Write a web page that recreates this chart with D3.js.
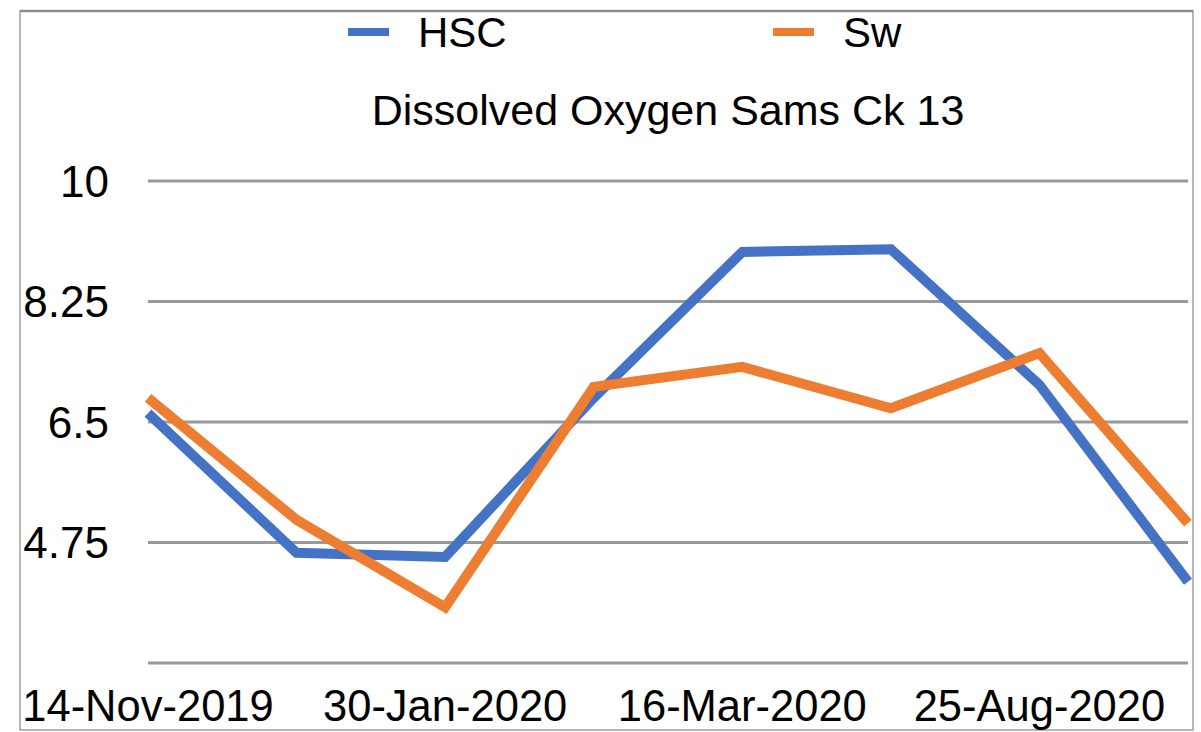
<!DOCTYPE html>
<html>
<head>
<meta charset="utf-8">
<script src="https://cdn.jsdelivr.net/npm/d3@7"></script>
<style>
  body { margin: 0; background: #fff; }
  text { font-family: "Liberation Sans", Arial, Helvetica, sans-serif; fill: #000; }
</style>
</head>
<body>
<div class="canvas"></div>
<script>
// --- data
var tickLabels = ['14-Nov-2019', '', '30-Jan-2020', '', '16-Mar-2020', '', '25-Aug-2020', ''];
var hsc = [6.63, 4.60, 4.54, 6.85, 8.97, 9.01, 7.04, 4.18];
var sw  = [6.85, 5.08, 3.81, 7.01, 7.30, 6.70, 7.50, 5.03];
var yTicks = [3, 4.75, 6.5, 8.25, 10];
var seriesNames = ['HSC', 'Sw'];
var colors = ['#4472C4', '#ED7D31'];

var W = 1201, H = 732;
var M = {top: 181, right: 13, bottom: 69, left: 148};

var svg = d3.select('.canvas')
  .append('svg')
  .attr('width', W)
  .attr('height', H);

// outer frame
svg.append('rect')
  .attr('x', 20).attr('y', 11)
  .attr('width', 1173).attr('height', 719)
  .style('fill', 'none')
  .style('stroke', '#a0a0a0')
  .style('stroke-width', 1.5);
svg.append('line')
  .attr('x1', 20).attr('x2', 1193).attr('y1', 11).attr('y2', 11)
  .style('stroke', '#8c8c8c').style('stroke-width', 2.5);

var x = d3.scalePoint()
  .domain(d3.range(tickLabels.length))
  .range([M.left, W - M.right]);

var y = d3.scaleLinear()
  .domain([3, 10])
  .range([663, M.top]);

// gridlines
svg.append('g')
  .selectAll('line')
  .data(yTicks)
  .enter().append('line')
  .attr('x1', M.left).attr('x2', W - M.right)
  .attr('y1', function(d) { return y(d); })
  .attr('y2', function(d) { return y(d); })
  .style('stroke', '#999')
  .style('stroke-width', 3);

// y labels (bottom tick unlabeled)
svg.append('g')
  .selectAll('text')
  .data(yTicks.filter(function(d) { return d !== 3; }))
  .enter().append('text')
  .attr('x', 109)
  .attr('y', function(d) { return y(d); })
  .attr('dy', '0.36em')
  .attr('text-anchor', 'end')
  .style('font-size', '44px')
  .text(function(d) { return d; });

// x labels
svg.append('g')
  .selectAll('text')
  .data(tickLabels)
  .enter().append('text')
  .attr('x', function(d, i) { return x(i); })
  .attr('y', 721)
  .attr('text-anchor', 'middle')
  .style('font-size', '43.5px')
  .text(function(d) { return d; });

// lines
var line = d3.line()
  .x(function(d, i) { return x(i); })
  .y(function(d) { return y(d); });

[hsc, sw].forEach(function(s, k) {
  svg.append('path')
    .datum(s)
    .attr('d', line)
    .style('fill', 'none')
    .style('stroke', colors[k])
    .style('stroke-width', 10)
    .style('stroke-linejoin', 'miter');
});

// title
svg.append('text')
  .attr('x', (M.left + W - M.right) / 2)
  .attr('y', 125)
  .attr('text-anchor', 'middle')
  .style('font-size', '43px')
  .text('Dissolved Oxygen Sams Ck 13');

// legend
var legX = [348, 773];
seriesNames.forEach(function(n, k) {
  svg.append('rect')
    .attr('x', legX[k]).attr('y', 28)
    .attr('width', 41).attr('height', 8)
    .style('fill', colors[k]);
  svg.append('text')
    .attr('x', legX[k] + 70)
    .attr('y', 47)
    .style('font-size', '42px')
    .text(n);
});
</script>
</body>
</html>
